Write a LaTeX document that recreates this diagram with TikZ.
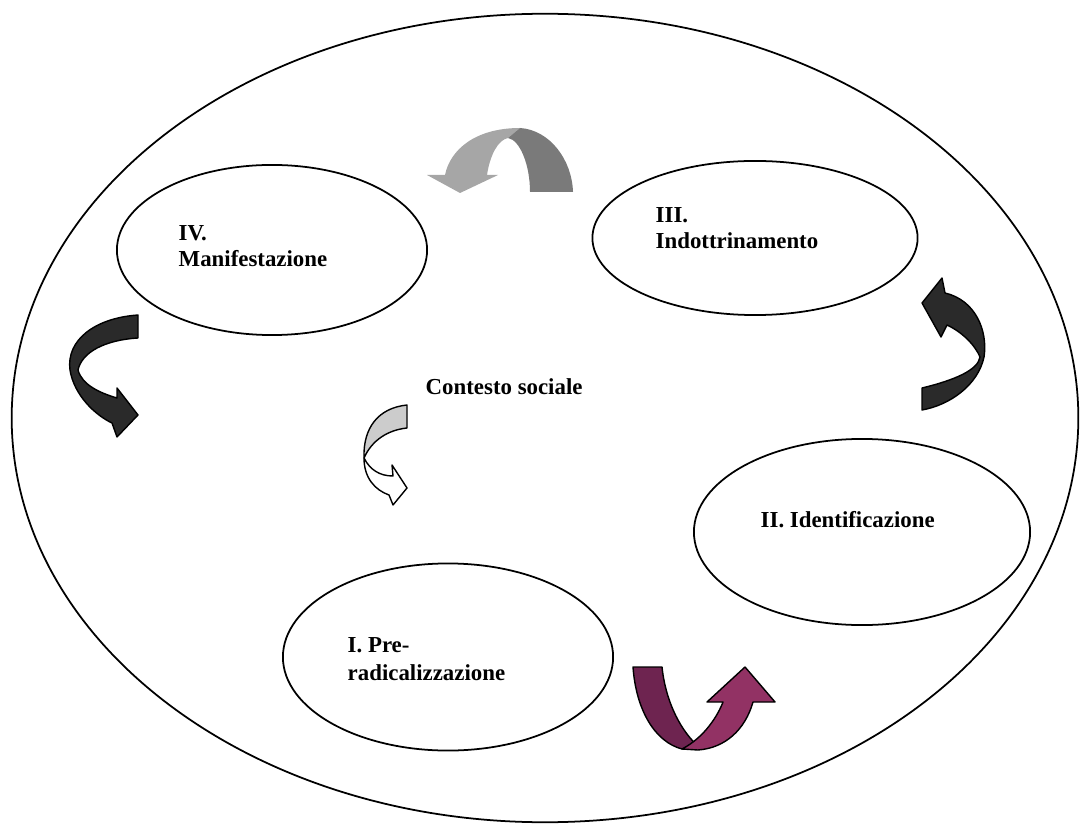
\documentclass[tikz,border=0pt]{standalone}
\usepackage{fontspec}
\setmainfont{Liberation Serif}
\usetikzlibrary{shapes.geometric}
\definecolor{lightarc}{RGB}{166,166,166}
\definecolor{darkarc}{RGB}{122,122,122}
\definecolor{blackarc}{RGB}{42,42,42}
\definecolor{softgray}{RGB}{204,204,204}
\definecolor{plumdark}{RGB}{110,36,80}
\definecolor{plumlight}{RGB}{146,50,100}

\begin{document}
\begin{tikzpicture}[x=0.01cm, y=-0.01cm,
    stage/.style={draw, ellipse, line width=0.5pt, inner sep=0pt},
    stagetext/.style={anchor=west, inner sep=0pt, align=left, font=\fontsize{6.5}{7.5}\selectfont\bfseries},
    band/.style={draw=black, line width=0.4pt, line join=round}]
      \useasboundingbox (0,0) rectangle (1080,825);
      % Social context:
      \node[stage, minimum width=10.66cm, minimum height=8.08cm] (context) at (545,418) {};
      % Stages:
      \node[stage, minimum width=3.1cm, minimum height=1.7cm] (manif) at (272,250) {};
      \node[stage, minimum width=3.25cm, minimum height=1.54cm] (indott) at (755,238) {};
      \node[stage, minimum width=3.36cm, minimum height=1.86cm] (ident) at (862,532) {};
      \node[stage, minimum width=3.3cm, minimum height=1.87cm] (prerad) at (448,657) {};
      \node[stagetext] (manif text) at (178,246) {IV.\\Manifestazione};
      \node[stagetext] (indott text) at (655,228) {III.\\Indottrinamento};
      \node[stagetext] (ident text) at (760,520) {II. Identificazione};
      \node[stagetext, font=\fontsize{6.5}{8}\selectfont\bfseries] (prerad text) at (347,659) {I. Pre-\\radicalizzazione};
      \node[stagetext] (context text) at (425,387) {Contesto sociale};
      % Arrow III -> IV:
      \fill[lightarc] (520,128) .. controls (475,128) and (450,150) .. (445,175) -- (427,175) -- (460,193) -- (498,175) -- (487,175) .. controls (490,155) and (498,140) .. (508,138) -- cycle;
      \fill[darkarc] (520,128) .. controls (550,130) and (572,160) .. (573,192) -- (530,192) .. controls (530,165) and (520,140) .. (508,138) -- cycle;
      % Arrow IV -> I:
      \filldraw[band, fill=blackarc] (138,315) .. controls (95,318) and (66,340) .. (70,370) .. controls (74,395) and (95,415) .. (112,423) -- (117,437) -- (138,415) -- (117,388) -- (117,398) .. controls (100,393) and (82,385) .. (78,370) .. controls (82,352) and (105,340) .. (138,338) -- cycle;
      % Arrow II -> III:
      \filldraw[band, fill=blackarc] (922,410) .. controls (950,405) and (978,385) .. (984,357) .. controls (988,330) and (975,300) .. (945,293) -- (942,278) -- (922,303) -- (941,337) -- (947,325) .. controls (962,332) and (975,345) .. (980,357) .. controls (978,370) and (955,380) .. (922,388) -- cycle;
      % Arrow in the centre:
      \filldraw[band, fill=softgray] (407,405) .. controls (378,408) and (363,428) .. (364,458) .. controls (372,440) and (388,430) .. (407,428) -- cycle;
      \filldraw[band, fill=white] (364,458) .. controls (370,470) and (380,476) .. (393,476) -- (392,465) -- (407,488) -- (393,505) -- (389,495) .. controls (375,490) and (364,478) .. (364,458) -- cycle;
      % Arrow I -> II:
      \filldraw[band, fill=plumdark] (633,667) .. controls (636,710) and (655,742) .. (682,749) -- (698,746) .. controls (683,733) and (666,705) .. (662,667) -- cycle;
      \filldraw[band, fill=plumlight] (682,749) .. controls (705,737) and (718,715) .. (723,702) -- (707,702) -- (745,667) -- (775,702) -- (753,702) .. controls (745,730) and (725,748) .. (698,750) -- cycle;
\end{tikzpicture}
\end{document}
